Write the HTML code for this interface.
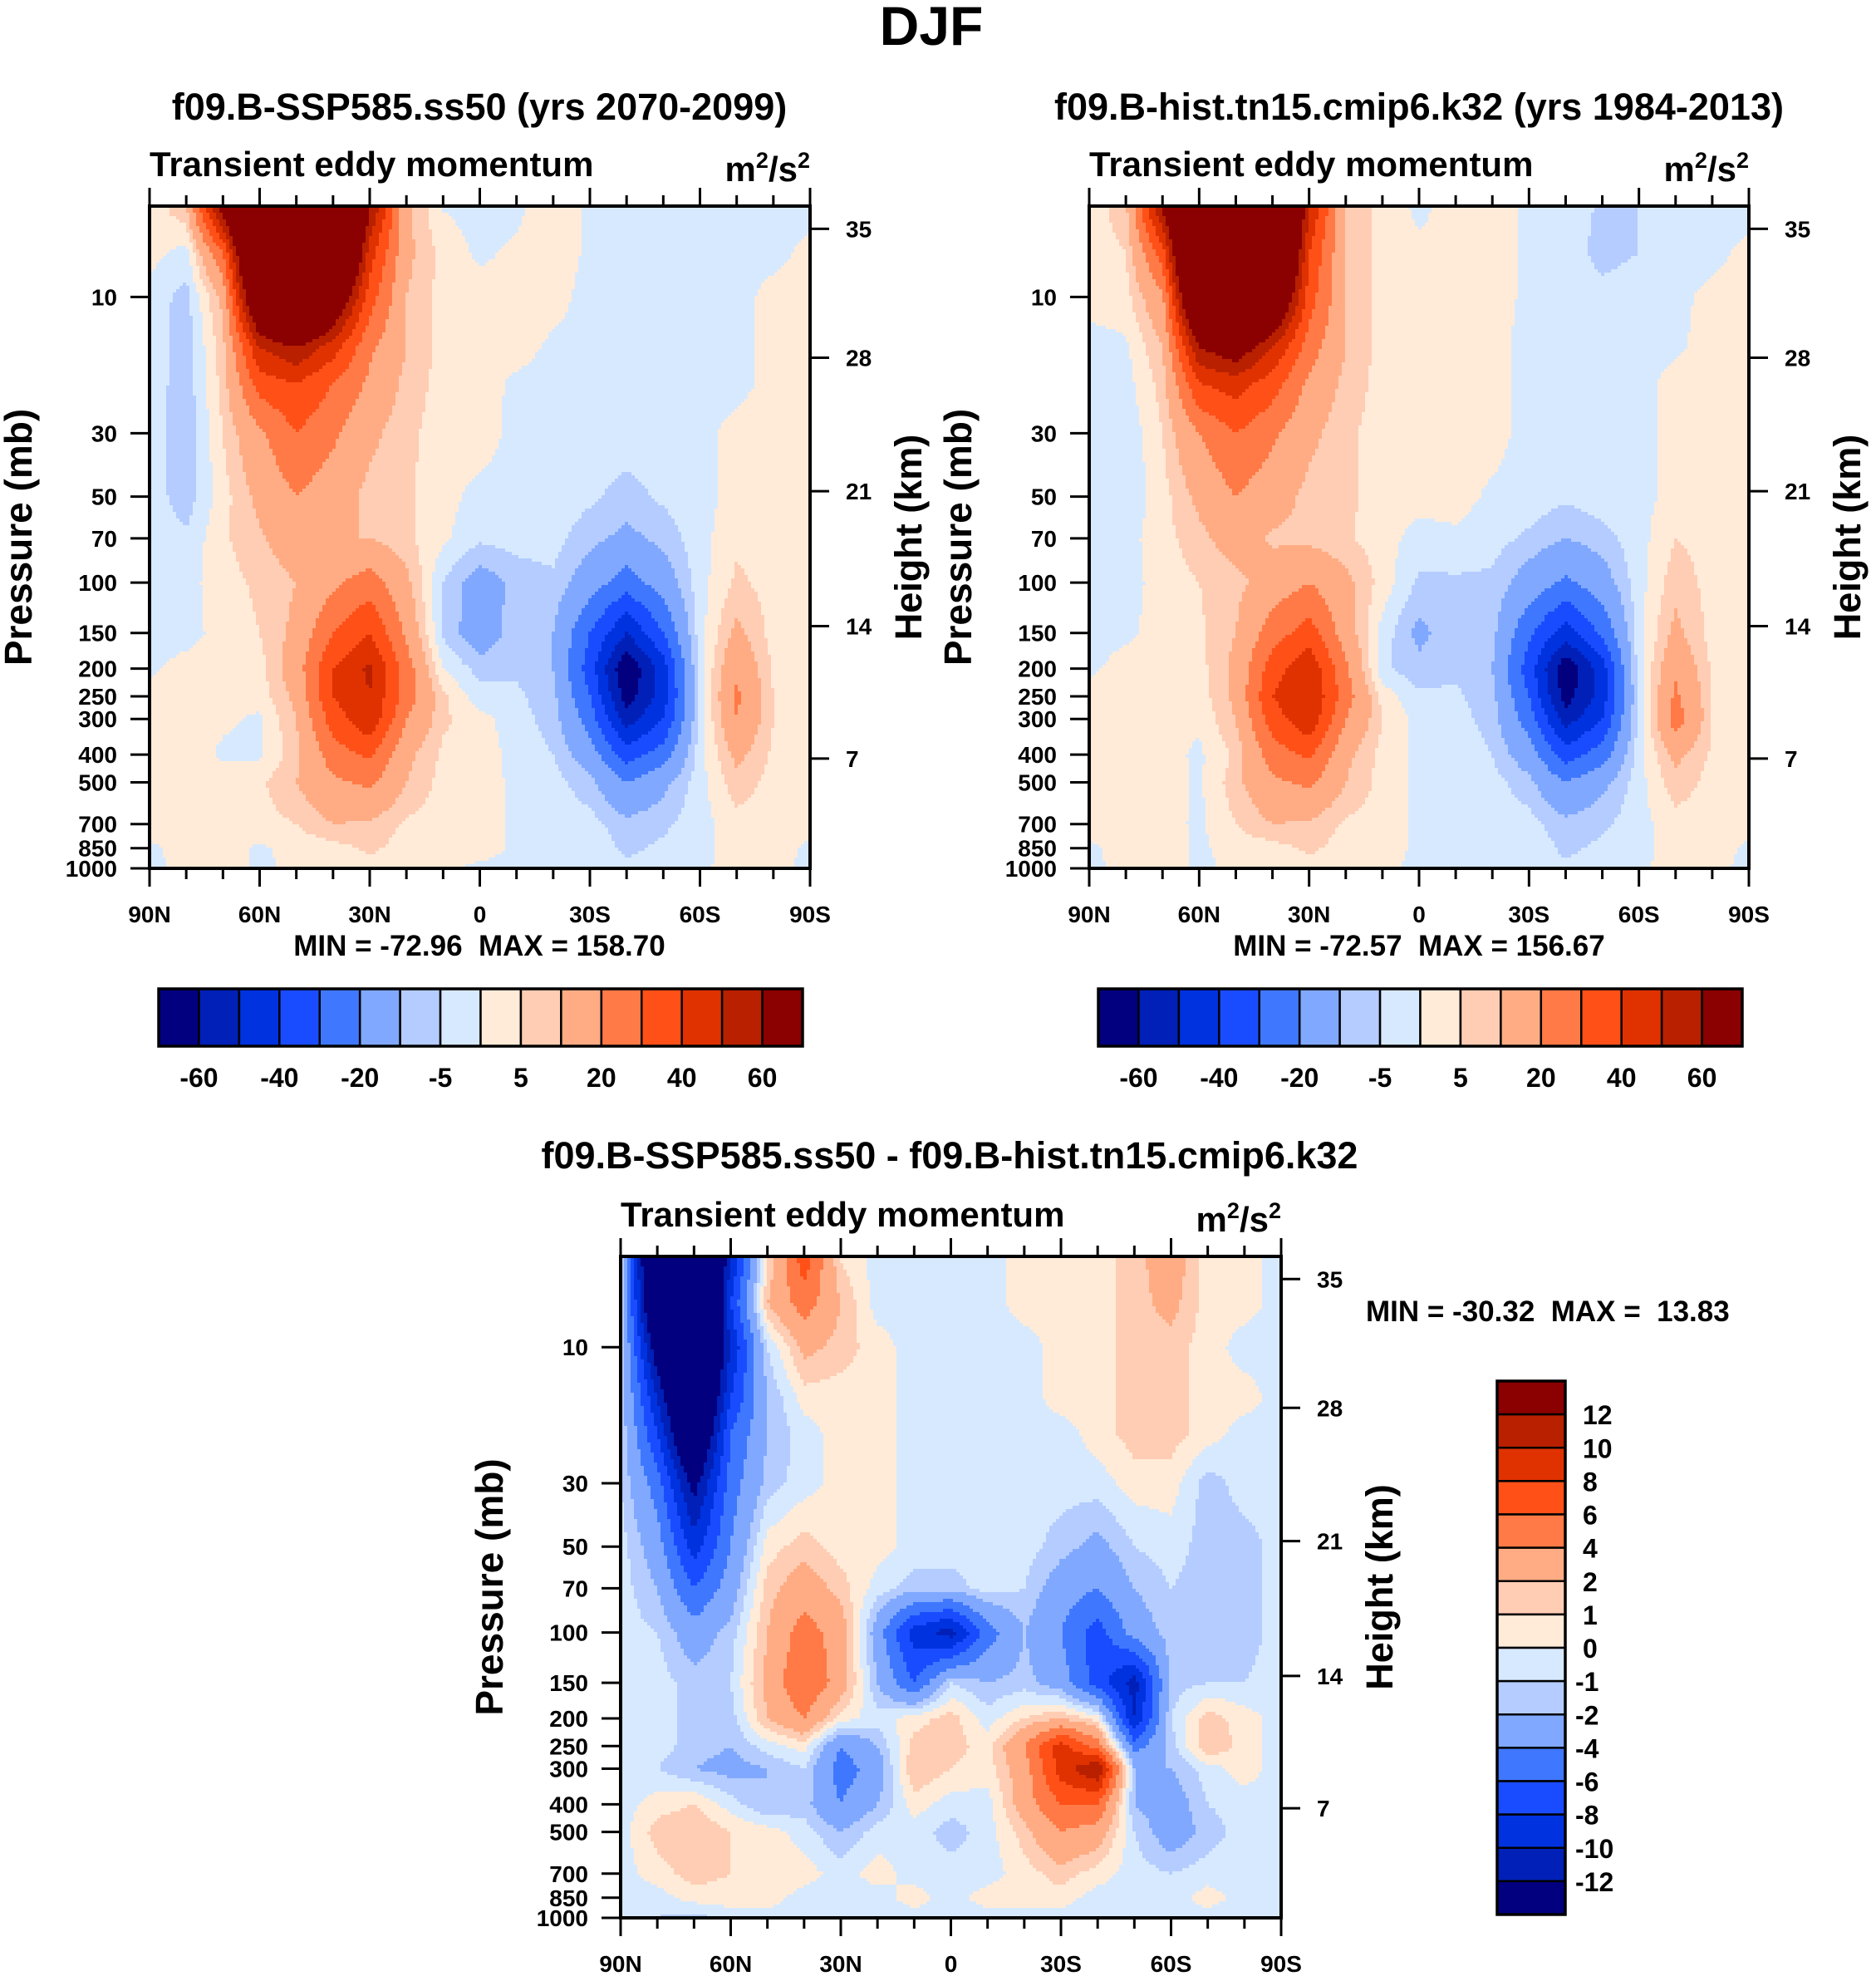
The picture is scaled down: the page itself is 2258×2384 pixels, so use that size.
<!DOCTYPE html>
<html><head><meta charset="utf-8"><style>
html,body{margin:0;padding:0;background:#fff}
svg{display:block}
text{font-family:"Liberation Sans",Arial,sans-serif;font-weight:bold;fill:#000;white-space:pre}
</style></head><body>
<svg id="fig" xmlns="http://www.w3.org/2000/svg" width="2258" height="2384" viewBox="0 0 2258 2384">
<rect x="0" y="0" width="2258" height="2384" fill="#fff"/>
<text x="1121" y="54" font-size="66" text-anchor="middle">DJF</text>
<text x="577" y="144" font-size="45" text-anchor="middle">f09.B-SSP585.ss50 (yrs 2070-2099)</text>
<text x="1708" y="144" font-size="45" text-anchor="middle">f09.B-hist.tn15.cmip6.k32 (yrs 1984-2013)</text>
<text x="1143" y="1406" font-size="45" text-anchor="middle">f09.B-SSP585.ss50 - f09.B-hist.tn15.cmip6.k32</text>
<g id="panels"></g>
</svg>
<script>
const lats = [90,80,70,60,50,40,30,20,10,0,-10,-20,-30,-40,-50,-60,-70,-80,-90];
const pressures = [5,7,10,15,20,30,50,70,100,150,200,250,300,400,500,700,850,1000];
const pTicks = [10,30,50,70,100,150,200,250,300,400,500,700,850,1000];
const hTicks = [7,14,21,28,35];
const xTickLabels = ["90N","60N","30N","0","30S","60S","90S"];
const levelsFull = [-60,-50,-40,-30,-20,-10,-5,0,5,10,20,30,40,50,60];
const levelsDiff = [-12,-10,-8,-6,-4,-2,-1,0,1,2,4,6,8,10,12];
const cbLabelsFull = ["-60","-40","-20","-5","5","20","40","60"];
const cbLabelsDiff = ["12","10","8","6","4","2","1","0","-1","-2","-4","-6","-8","-10","-12"];
const colors = ["#02007f","#0020b8","#0032e0","#1a4cff","#3f78ff","#80a8ff","#b4ccff","#d7e9ff","#ffebd8","#ffcdb4","#ffac84","#ff7a46","#ff5018","#e03200","#b82000","#8b0000"];

const ssp585 = [
[2,8,65,120,150,130,60,12,0,-2,-1,3,-1,-2,-2,-2,-2,-2,-1],
[2,-2,30,110,150,120,45,12,3,-1,1,3,-1,-1,-1,-1,-1,-1,1],
[-2,-7,12,90,130,80,35,10,3,2,2,2,-2,-2,-2,-2,-1,1,1],
[-2,-8,8,50,60,45,22,10,3,2,2,-1,-2,-2,-2,-2,-2,2,2],
[-2,-8,7,35,40,30,18,8,3,2,-1,-2,-2,-2,-2,-2,-2,2,2],
[-2,-9,5,18,30,22,12,6,3,3,-2,-2,-2,-2,-2,-2,2,3,2],
[-2,-8,3,12,20,14,8,6,2,-2,-2,-2,-4,-7,-4,-2,2,3,2],
[-2,-4,4,9,15,10,10,6,1,-4,-3,-3,-8,-12,-8,-2,4,3,2],
[-2,-2,3,6,10,18,25,12,-5,-14,-8,-6,-15,-25,-15,-2,6,3,2],
[-2,-2,2,5,12,30,40,18,-6,-15,-7,-10,-30,-50,-30,-2,12,3,2],
[-1,2,2,3,15,40,52,25,0,-7,-6,-10,-35,-70,-45,-2,18,4,2],
[2,3,2,2,12,40,50,25,6,-3,-4,-8,-30,-65,-45,-3,22,5,2],
[2,3,1,-1,10,35,48,20,6,2,-3,-7,-25,-55,-40,-3,20,5,2],
[2,3,-1,-1,8,25,32,12,4,3,-2,-5,-15,-35,-25,-2,12,4,2],
[2,3,3,4,10,18,22,10,3,2,-1,-3,-8,-20,-12,-2,8,3,2],
[2,2,2,3,5,10,9,4,3,2,-1,-2,-3,-8,-6,-2,3,2,2],
[-1,2,3,-1,2,3,6,3,2,2,-1,-2,-2,-6,-4,-2,3,2,-1],
[-1,1,2,-1,1,2,3,2,1,-1,-1,-1,-3,-4,-3,-1,2,1,-1]];

const hist = [
[2,8,60,130,150,130,50,10,3,-1,2,2,-1,-2,-6,-5,-2,-2,-1],
[2,5,35,120,150,120,40,10,3,1,2,2,-1,-2,-7,-5,-2,-1,1],
[2,3,18,100,130,90,35,10,3,2,2,2,-1,-2,-3,-2,-1,1,1],
[-2,-1,10,60,70,50,25,10,3,2,2,2,-2,-2,-2,-2,-1,2,2],
[-2,-2,7,40,45,35,18,8,3,2,2,2,-2,-2,-2,-2,2,2,2],
[-2,-4,5,20,30,22,12,6,3,3,2,2,-2,-2,-2,-2,2,3,2],
[-2,-4,3,12,20,14,8,6,3,2,2,-1,-2,-4,-2,-2,2,3,2],
[-2,-2,3,8,14,9,8,6,2,-2,-1,-3,-6,-10,-7,-2,5,3,2],
[-2,-2,2,5,8,14,20,12,3,-6,-6,-6,-14,-22,-14,-2,8,3,2],
[-2,-1,2,4,10,25,35,15,-2,-12,-6,-8,-28,-45,-28,-2,12,3,2],
[-1,2,2,3,12,35,48,22,-4,-8,-6,-10,-35,-68,-45,-2,18,4,2],
[2,3,2,2,12,40,50,25,3,-4,-4,-8,-30,-65,-45,-3,22,5,2],
[2,3,2,1,10,35,48,20,5,-2,-3,-7,-25,-55,-40,-3,25,5,2],
[2,3,2,-1,6,25,32,12,3,-1,-2,-5,-15,-35,-25,-2,12,4,2],
[2,3,3,-1,8,18,22,10,3,-1,-1,-3,-8,-20,-12,-2,8,3,2],
[2,2,2,-1,5,10,9,4,3,-1,-1,-2,-3,-8,-6,-2,3,2,2],
[-1,2,3,-1,2,3,6,3,2,-1,-1,-2,-2,-6,-4,-2,3,2,-1],
[-1,1,2,-1,1,2,3,2,1,-1,-1,-1,-3,-4,-3,-1,2,1,-1]];

const diff = [
[-1,-20,-25,-10,1,7,1,-0.5,-0.5,-0.5,-0.5,0.5,0.5,0.5,1.5,3,0.5,0.5,-0.5],
[-1,-18,-25,-8,2,5,2,-0.5,-0.5,-0.5,-0.5,0.5,0.5,0.5,1.5,2.5,0.5,0.5,-0.5],
[-1,-14,-22,-10,-1,2.5,1.5,0.5,-0.5,-0.5,-0.5,-0.5,0.5,0.5,1.5,1.5,0.5,-0.5,-0.5],
[-1,-10,-20,-8,-2,0.5,0.5,0.5,-0.5,-0.5,-0.5,-0.5,0.5,0.5,1.5,1.5,0.5,0.5,-0.5],
[-1,-8,-18,-6,-2,-0.5,0.5,0.5,-0.5,-0.5,-0.5,-0.5,-0.5,0.5,1.5,1.5,0.5,-0.5,-0.5],
[-1,-5,-13,-5,-1.5,-0.5,0.5,0.5,-0.5,-0.5,-0.5,-0.5,-0.5,-0.5,0.5,0.5,-1.5,-0.5,-0.5],
[-0.5,-3,-9,-4,0.5,1.5,0.5,0.5,-0.5,-0.5,-0.5,-0.5,-1.5,-2.5,-1,-0.5,-1.5,-1.5,-0.5],
[-0.5,-2,-6,-3,1.5,3,1.5,-0.5,-1.5,-1.5,-0.5,-1,-3,-4,-2,-1,-1.5,-1.5,-0.5],
[-0.5,-1,-3,-1.5,2,5,3,-3,-9,-11,-5,-2,-4,-7,-3,-1.5,-1.5,-1.5,-0.5],
[-0.5,-0.5,-1.5,-1,2.5,6,3,-2,-6,-1,-2,-1.5,-3,-7,-11,-1.5,-1,-1,-0.5],
[-0.5,-0.5,-1.5,-1.5,2,4,0.5,-0.5,0.5,1.5,-0.5,1,2,0.5,-10,-1,1.5,0.5,-0.5],
[-0.5,-0.5,-1.5,-2,-0.5,0.5,-4,-2,1.5,1.5,0.5,4,9,5,-5,-1.5,2,0.5,-0.5],
[-0.5,-1,-2,-2.5,-2,-1,-5,-3,2,1,0.5,3,9,12,-2,-2,-0.5,0.5,-0.5],
[-0.5,0.5,1,-0.5,-2,-1.5,-4,-2,0.5,-0.5,-0.5,3,6,6,-2,-3,-1,-0.5,-0.5],
[-0.5,1.5,2,1,0.5,-0.5,-2,-0.5,-0.5,-1.5,-0.5,1.5,4,3,-1,-3,-1.5,-0.5,-0.5],
[-0.5,0.5,1.5,1,1,0.5,-0.5,0.5,-0.5,-0.5,-0.5,0.5,1.5,0.5,-0.5,-1,-0.5,-0.5,-0.5],
[-0.5,-0.5,0.5,0.5,0.5,-0.5,-0.5,-0.5,0.5,-0.5,0.5,0.5,0.5,-0.5,-0.5,-0.5,0.5,-0.5,-0.5],
[-0.5,-1,-1.5,-0.5,-0.5,-0.5,-0.5,-0.5,-0.5,-0.5,-0.5,-0.5,-0.5,-0.5,-0.5,-0.5,-0.5,-0.5,-0.5]];

const NS = "http://www.w3.org/2000/svg";
const DEC = 0.4314;
const hFrac = [0.1657,0.3657,0.5695,0.771,0.9657];
function mk(tag, attrs, parent){const e=document.createElementNS(NS,tag);for(const k in attrs)e.setAttribute(k,attrs[k]);parent.appendChild(e);return e;}
function colorIndex(v, levels){let k=0;while(k<levels.length && v>=levels[k])k++;return k;}

function drawPanel(id, x0, y0, W, H, grid, levels){
  const g = mk('g',{},document.getElementById('panels'));
  
  
  const xScale = lat => x0 + (90-lat)/180*W;
  const yScale = p => y0 + H - (3-Math.log10(p))*DEC*H;
  const logP = pressures.map(p=>Math.log10(p));
  const field = mk('g',{'shape-rendering':'crispEdges'},g);
  
  
  const step = 4;
  const valueAt = (xc, yc) => {
    let lp = 3 - (y0+H-yc)/(DEC*H);
    lp = Math.max(logP[0], Math.min(3, lp));
    let r=0; while(r<logP.length-2 && lp>logP[r+1]) r++;
    const tr = (lp-logP[r])/(logP[r+1]-logP[r]);
    const fc = Math.max(0, Math.min(18, (xc-x0)/W*18));
    const c = Math.min(17, Math.floor(fc)); const tc = fc-c;
    return (1-tr)*((1-tc)*grid[r][c]+tc*grid[r][c+1]) + tr*((1-tc)*grid[r+1][c]+tc*grid[r+1][c+1]);
  };
  for(let yy=y0; yy<y0+H; yy+=step){
    const hh = Math.min(step, y0+H-yy);
    const yc = yy+hh/2;
    let runStart=x0, runC=-1;
    const flush = (xe) => {
      if(runC<0) return;
      const cell = mk('rect',{x:runStart,y:yy,width:xe-runStart+0.6,height:hh+0.6,fill:colors[runC]},field);
      
      
    };
    for(let xx=x0; xx<x0+W; xx+=step){
      const ww = Math.min(step, x0+W-xx);
      const ci = colorIndex(valueAt(xx+ww/2, yc), levels);
      if(ci!==runC){ flush(xx); runStart=xx; runC=ci; }
    }
    flush(x0+W);
  }
  const frame = mk('rect',{x:x0,y:y0,width:W,height:H,fill:'none',stroke:'#000','stroke-width':4},g);
  
  
  for(let lat=90; lat>=-90; lat-=10){
    const x = xScale(lat); const major = (lat%30===0); const L = major?22:13;
    const t1 = mk('line',{x1:x,x2:x,y1:y0,y2:y0-L,stroke:'#000','stroke-width':3},g);
    
    
    const t2 = mk('line',{x1:x,x2:x,y1:y0+H,y2:y0+H+L,stroke:'#000','stroke-width':3},g);
    
    
  }
  xTickLabels.forEach((s,i)=>{
    const t = mk('text',{x:xScale(90-30*i),y:y0+H+65,'font-size':28,'text-anchor':'middle'},g);
    t.textContent=s;
    
    
  });
  pTicks.forEach(p=>{
    const y=yScale(p);
    const l = mk('line',{x1:x0,x2:x0-23,y1:y,y2:y,stroke:'#000','stroke-width':3},g);
    
    
    const t = mk('text',{x:x0-39,y:y+10,'font-size':28,'text-anchor':'end'},g);
    t.textContent=String(p);
    
    
  });
  hTicks.forEach((h,i)=>{
    const y = y0 + H - hFrac[i]*H;
    const l = mk('line',{x1:x0+W,x2:x0+W+23,y1:y,y2:y,stroke:'#000','stroke-width':3},g);
    
    
    const t = mk('text',{x:x0+W+43,y:y+10,'font-size':28},g);
    t.textContent=String(h);
    
    
  });
  const ls = mk('text',{x:x0,y:y0-36,'font-size':42},g);
  ls.textContent='Transient eddy momentum';
  
  
  const un = mk('text',{x:x0+W,y:y0-30,'font-size':42,'text-anchor':'end'},g);
  un.innerHTML='m<tspan dy="-16" font-size="27">2</tspan><tspan dy="16">/s</tspan><tspan dy="-16" font-size="27">2</tspan>';
  
  
  const py = mk('text',{x:0,y:0,'font-size':46,'text-anchor':'middle',transform:`translate(${x0-142},${y0+H*0.5}) rotate(-90)`},g);
  py.textContent='Pressure (mb)';
  
  
  const hy = mk('text',{x:0,y:0,'font-size':45,'text-anchor':'middle',transform:`translate(${x0+W+134},${y0+H*0.5}) rotate(-90)`},g);
  hy.textContent='Height (km)';
  
  
  return g;
}

function hColorbar(id, x0, y0, W, H){
  const g = mk('g',{},document.getElementById('panels'));
  
  
  const bw = W/16;
  colors.forEach((c,i)=>{
    const r = mk('rect',{x:x0+i*bw,y:y0,width:bw,height:H,fill:c,stroke:'#000','stroke-width':2.5},g);
    
    
  });
  const fr = mk('rect',{x:x0,y:y0,width:W,height:H,fill:'none',stroke:'#000','stroke-width':3.5},g);
  
  
  cbLabelsFull.forEach((s,i)=>{
    const t = mk('text',{x:x0+(1+2*i)*bw,y:y0+H+49,'font-size':32,'text-anchor':'middle'},g);
    t.textContent=s;
    
    
  });
}
function vColorbar(id, x0, y0, W, H){
  const g = mk('g',{},document.getElementById('panels'));
  
  
  const bh = H/16;
  colors.slice().reverse().forEach((c,i)=>{
    const r = mk('rect',{x:x0,y:y0+i*bh,width:W,height:bh,fill:c,stroke:'#000','stroke-width':2.5},g);
    
    
  });
  const fr = mk('rect',{x:x0,y:y0,width:W,height:H,fill:'none',stroke:'#000','stroke-width':3.5},g);
  
  
  cbLabelsDiff.forEach((s,i)=>{
    const t = mk('text',{x:x0+W+(s.startsWith('-')?12:21),y:y0+(i+1)*bh+12,'font-size':32},g);
    t.textContent=s;
    
    
  });
}
function label(txt,x,y,size,anchor,name){
  const t = mk('text',{x:x,y:y,'font-size':size,'text-anchor':anchor},document.getElementById('panels'));
  t.textContent=txt;
  
  
}

drawPanel('panel-ssp585', 180, 248, 795, 797, ssp585, levelsFull);
drawPanel('panel-hist', 1311, 248, 794, 797, hist, levelsFull);
drawPanel('panel-diff', 747, 1512, 795, 796, diff, levelsDiff);
label('MIN = -72.96  MAX = 158.70', 577, 1150, 35, 'middle', 'panel1-min-max');
label('MIN = -72.57  MAX = 156.67', 1708, 1150, 35, 'middle', 'panel2-min-max');
label('MIN = -30.32  MAX =  13.83', 1644, 1590, 35, 'start', 'diff-min-max');
hColorbar('panel1-colorbar', 191, 1190, 775, 69);
hColorbar('panel2-colorbar', 1322, 1190, 775, 69);
vColorbar('diff-colorbar', 1802, 1662, 82, 642);
</script>
</body></html>
